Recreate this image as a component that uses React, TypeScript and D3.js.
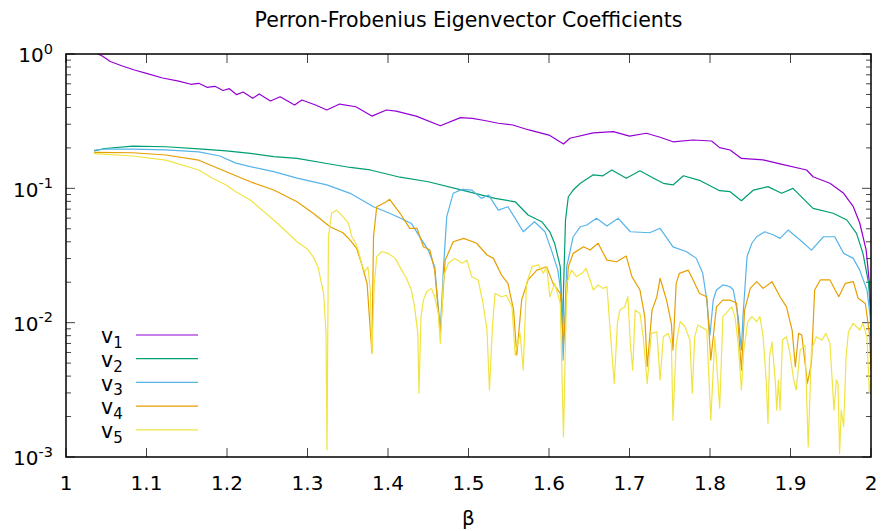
import React from "react";
import * as d3 from "d3";

type Pt = [number, number];

const W = 883;
const H = 531;
const PLOT = { left: 66, right: 871, top: 54, bottom: 457 };

const chartTitle = "Perron-Frobenius Eigenvector Coefficients";
const xLabel = "β";
const seriesLabels = ["1", "2", "3", "4", "5"];
const seriesColors = ["#9400d3", "#009e73", "#56b4e9", "#e69f00", "#f0e442"];
const xDomain: Pt = [1, 2];
const yDomain: Pt = [0.001, 1];

const v1: Pt[] = [
  [1.035, 1.035], [1.045, 0.966], [1.055, 0.88], [1.07, 0.814], [1.085, 0.76], [1.1, 0.718],
  [1.12, 0.663], [1.14, 0.629], [1.155, 0.595], [1.165, 0.605], [1.175, 0.565], [1.185, 0.575],
  [1.195, 0.535], [1.203, 0.552], [1.212, 0.498], [1.22, 0.521], [1.232, 0.468], [1.24, 0.504],
  [1.254, 0.447], [1.266, 0.481], [1.284, 0.417], [1.293, 0.455], [1.31, 0.417], [1.324, 0.383],
  [1.34, 0.424], [1.36, 0.405], [1.38, 0.345], [1.398, 0.383], [1.41, 0.376], [1.435, 0.345],
  [1.465, 0.292], [1.49, 0.336], [1.505, 0.332], [1.52, 0.32], [1.537, 0.305], [1.555, 0.296],
  [1.575, 0.272], [1.6, 0.249], [1.618, 0.214], [1.626, 0.236], [1.655, 0.259], [1.68, 0.264],
  [1.7, 0.245], [1.721, 0.257], [1.738, 0.24], [1.754, 0.222], [1.779, 0.229], [1.802, 0.225],
  [1.812, 0.201], [1.825, 0.193], [1.839, 0.167], [1.866, 0.163], [1.887, 0.152], [1.92, 0.137],
  [1.928, 0.122], [1.949, 0.109], [1.966, 0.0918], [1.978, 0.073], [1.986, 0.0552], [1.994, 0.0347],
  [1.998, 0.0197], [2.0, 0.0105],
];

const v2: Pt[] = [
  [1.035, 0.19], [1.048, 0.198], [1.083, 0.2065], [1.124, 0.204], [1.165, 0.197], [1.199, 0.19],
  [1.229, 0.182], [1.258, 0.172], [1.287, 0.167], [1.324, 0.153], [1.353, 0.143], [1.378, 0.137],
  [1.415, 0.121], [1.45, 0.112], [1.492, 0.097], [1.533, 0.0841], [1.558, 0.0794], [1.574, 0.0633],
  [1.591, 0.0564], [1.601, 0.0475], [1.607, 0.0389], [1.614, 0.0261], [1.617, 0.00881], [1.618, 0.0175],
  [1.6205, 0.058], [1.624, 0.0866], [1.63, 0.0971], [1.639, 0.109], [1.655, 0.126], [1.667, 0.124],
  [1.678, 0.137], [1.696, 0.119], [1.713, 0.135], [1.73, 0.119], [1.742, 0.109], [1.754, 0.106],
  [1.767, 0.124], [1.788, 0.114], [1.812, 0.096], [1.825, 0.0944], [1.839, 0.0809], [1.854, 0.0971],
  [1.872, 0.103], [1.889, 0.0918], [1.903, 0.1], [1.928, 0.071], [1.953, 0.0652], [1.97, 0.0581],
  [1.982, 0.0462], [1.99, 0.0328], [1.997, 0.0197], [2.0, 0.0105],
];

const v3: Pt[] = [
  [1.035, 0.192], [1.048, 0.196], [1.083, 0.196], [1.124, 0.193], [1.165, 0.187], [1.191, 0.174],
  [1.211, 0.154], [1.229, 0.145], [1.258, 0.133], [1.287, 0.119], [1.324, 0.106], [1.353, 0.0918],
  [1.382, 0.073], [1.402, 0.0652], [1.415, 0.0601], [1.429, 0.0548], [1.442, 0.0412], [1.45, 0.0347],
  [1.458, 0.0261], [1.465, 0.00881], [1.469, 0.0261], [1.473, 0.0615], [1.481, 0.0918], [1.492, 0.0983],
  [1.504, 0.0971], [1.516, 0.0842], [1.525, 0.0891], [1.537, 0.0689], [1.549, 0.073], [1.558, 0.0598],
  [1.568, 0.0475], [1.582, 0.0564], [1.595, 0.0475], [1.603, 0.0347], [1.611, 0.0246], [1.616, 0.0147],
  [1.6175, 0.00527], [1.6195, 0.0105], [1.622, 0.0261], [1.63, 0.0436], [1.639, 0.0518], [1.647, 0.0533],
  [1.659, 0.0598], [1.672, 0.0524], [1.686, 0.0598], [1.701, 0.0475], [1.725, 0.0467], [1.738, 0.0504],
  [1.754, 0.0367], [1.771, 0.0337], [1.783, 0.0301], [1.791, 0.0233], [1.796, 0.0147], [1.8, 0.00809],
  [1.804, 0.0147], [1.808, 0.0175], [1.816, 0.0191], [1.825, 0.0185], [1.829, 0.0175], [1.835, 0.0111],
  [1.839, 0.00625], [1.841, 0.0111], [1.846, 0.031], [1.852, 0.039], [1.858, 0.0436], [1.868, 0.0475],
  [1.879, 0.0449], [1.887, 0.0424], [1.897, 0.0489], [1.912, 0.0412], [1.926, 0.0347], [1.941, 0.0436],
  [1.955, 0.0436], [1.966, 0.0328], [1.978, 0.0301], [1.986, 0.0246], [1.995, 0.0175], [1.999, 0.0111],
  [2.0, 0.008],
];

const v4: Pt[] = [
  [1.035, 0.185], [1.083, 0.184], [1.124, 0.177], [1.165, 0.162], [1.199, 0.133], [1.211, 0.124],
  [1.229, 0.112], [1.258, 0.0971], [1.287, 0.0794], [1.307, 0.0652], [1.328, 0.0518], [1.344, 0.0467],
  [1.353, 0.0412], [1.361, 0.0357], [1.367, 0.0277], [1.374, 0.0196], [1.38, 0.00594], [1.382, 0.0436],
  [1.386, 0.073], [1.398, 0.0794], [1.402, 0.0828], [1.415, 0.0652], [1.427, 0.0504], [1.436, 0.0504],
  [1.444, 0.0367], [1.452, 0.0347], [1.458, 0.0246], [1.465, 0.00832], [1.471, 0.0292], [1.481, 0.04],
  [1.494, 0.0424], [1.51, 0.039], [1.523, 0.0319], [1.531, 0.0301], [1.541, 0.0226], [1.549, 0.0196],
  [1.556, 0.0124], [1.56, 0.00574], [1.566, 0.0147], [1.574, 0.0208], [1.585, 0.0246], [1.597, 0.0261],
  [1.605, 0.0196], [1.614, 0.0165], [1.618, 0.00681], [1.624, 0.0261], [1.63, 0.0328], [1.643, 0.0367],
  [1.651, 0.0347], [1.661, 0.039], [1.672, 0.0292], [1.684, 0.0284], [1.696, 0.0313], [1.703, 0.022],
  [1.713, 0.0175], [1.719, 0.0111], [1.722, 0.0047], [1.728, 0.0124], [1.734, 0.0156], [1.738, 0.0214],
  [1.746, 0.0147], [1.752, 0.00988], [1.754, 0.00625], [1.758, 0.0196], [1.762, 0.0233], [1.773, 0.0246],
  [1.779, 0.0208], [1.787, 0.0165], [1.796, 0.0156], [1.801, 0.00527], [1.808, 0.0131], [1.816, 0.0147],
  [1.825, 0.0147], [1.833, 0.014], [1.839, 0.00444], [1.843, 0.0124], [1.85, 0.018], [1.858, 0.0202],
  [1.866, 0.018], [1.877, 0.0202], [1.887, 0.0156], [1.895, 0.0131], [1.902, 0.00881], [1.906, 0.0047],
  [1.91, 0.00832], [1.914, 0.00809], [1.921, 0.00355], [1.926, 0.00498], [1.93, 0.0175], [1.937, 0.0208],
  [1.949, 0.0208], [1.96, 0.0156], [1.968, 0.0196], [1.978, 0.0202], [1.984, 0.0152], [1.993, 0.0139],
  [1.998, 0.00832], [2.0, 0.00444],
];

const v5: Pt[] = [
  [1.035, 0.181], [1.083, 0.174], [1.124, 0.162], [1.165, 0.137], [1.182, 0.119], [1.199, 0.106],
  [1.211, 0.0944], [1.229, 0.0818], [1.258, 0.0581], [1.274, 0.0475], [1.287, 0.04], [1.299, 0.0357],
  [1.307, 0.031], [1.313, 0.0261], [1.32, 0.0165], [1.323, 0.00837], [1.3242, 0.00113], [1.326, 0.0436],
  [1.33, 0.0652], [1.336, 0.0689], [1.344, 0.0615], [1.351, 0.0548], [1.355, 0.0436], [1.359, 0.04],
  [1.363, 0.0347], [1.367, 0.0277], [1.371, 0.0239], [1.375, 0.0261], [1.378, 0.0175], [1.38, 0.00591],
  [1.383, 0.0196], [1.386, 0.031], [1.392, 0.0337], [1.4, 0.0328], [1.409, 0.0301], [1.417, 0.0246],
  [1.423, 0.0214], [1.429, 0.0175], [1.433, 0.0131], [1.437, 0.00832], [1.4385, 0.00298], [1.441, 0.0111],
  [1.444, 0.0147], [1.448, 0.017], [1.454, 0.018], [1.458, 0.0156], [1.4625, 0.0117], [1.465, 0.00702],
  [1.469, 0.022], [1.475, 0.0277], [1.483, 0.0301], [1.492, 0.0277], [1.498, 0.0292], [1.504, 0.022],
  [1.512, 0.0208], [1.518, 0.0139], [1.523, 0.00881], [1.526, 0.00315], [1.53, 0.00988], [1.533, 0.0165],
  [1.541, 0.0156], [1.547, 0.016], [1.554, 0.0131], [1.558, 0.00574], [1.564, 0.00837], [1.568, 0.00444],
  [1.572, 0.0196], [1.579, 0.0261], [1.587, 0.0269], [1.593, 0.0233], [1.597, 0.0261], [1.601, 0.0156],
  [1.607, 0.0196], [1.614, 0.0139], [1.618, 0.00141], [1.622, 0.0196], [1.628, 0.0246], [1.634, 0.022],
  [1.641, 0.0233], [1.646, 0.0254], [1.651, 0.0208], [1.655, 0.0175], [1.661, 0.0191], [1.667, 0.018],
  [1.672, 0.0185], [1.676, 0.00881], [1.681, 0.00353], [1.685, 0.00988], [1.688, 0.0124], [1.694, 0.0131],
  [1.698, 0.0156], [1.701, 0.00702], [1.704, 0.00444], [1.707, 0.0124], [1.713, 0.0117], [1.717, 0.00785],
  [1.722, 0.00353], [1.727, 0.00832], [1.734, 0.00855], [1.738, 0.00374], [1.742, 0.00785], [1.748, 0.00832],
  [1.752, 0.00702], [1.754, 0.00188], [1.758, 0.00702], [1.763, 0.0102], [1.769, 0.00932], [1.775, 0.00742],
  [1.778, 0.00298], [1.781, 0.00785], [1.785, 0.0096], [1.792, 0.00907], [1.796, 0.00881], [1.801, 0.00188],
  [1.806, 0.00785], [1.812, 0.00231], [1.816, 0.0111], [1.827, 0.0131], [1.831, 0.0111], [1.835, 0.00702],
  [1.839, 0.00315], [1.842, 0.00625], [1.847, 0.0102], [1.852, 0.0111], [1.858, 0.0102], [1.862, 0.0111],
  [1.866, 0.00785], [1.87, 0.00353], [1.872, 0.00178], [1.874, 0.00557], [1.877, 0.00721], [1.881, 0.00374],
  [1.883, 0.00223], [1.885, 0.00374], [1.887, 0.00223], [1.89, 0.00742], [1.895, 0.00785], [1.899, 0.00607],
  [1.904, 0.00374], [1.907, 0.00315], [1.912, 0.00625], [1.918, 0.00681], [1.922, 0.00119], [1.926, 0.00625],
  [1.932, 0.00785], [1.939, 0.00742], [1.944, 0.00832], [1.949, 0.00702], [1.954, 0.00223], [1.957, 0.00374],
  [1.959, 0.00353], [1.961, 0.00106], [1.963, 0.00223], [1.966, 0.00168], [1.969, 0.00557], [1.972, 0.00855],
  [1.978, 0.00988], [1.982, 0.00932], [1.986, 0.00881], [1.99, 0.00988], [1.995, 0.00785], [1.998, 0.00298],
  [2.0, 0.00374],
];

const allSeries = [v1, v2, v3, v4, v5];

const FONT = "DejaVu Sans, Liberation Sans, sans-serif";

export default function App() {
  const x = d3.scaleLinear().domain(xDomain).range([PLOT.left, PLOT.right]);
  const y = d3.scaleLog().domain(yDomain).range([PLOT.bottom, PLOT.top]);
  const line = d3
    .line<Pt>()
    .x((d) => x(d[0]))
    .y((d) => y(d[1]));

  const xTicks = x.ticks(10);
  const yTicks = y.ticks();
  const isMajor = (v: number) => Math.abs(Math.log10(v) - Math.round(Math.log10(v))) < 1e-9;

  const tickColor = "#444";
  const majorLen = 9;
  const minorLen = 5;

  return (
    <svg
      width={W}
      height={H}
      style={{ position: "absolute", left: 0, top: 0, display: "block", background: "#fff" }}
      fontFamily={FONT}
    >
      <defs>
        <clipPath id="plotClip">
          <rect x={PLOT.left} y={PLOT.top} width={PLOT.right - PLOT.left} height={PLOT.bottom - PLOT.top} />
        </clipPath>
      </defs>
      <rect x={0} y={0} width={W} height={H} fill="#fff" />

      {/* title */}
      <text x={(PLOT.left + PLOT.right) / 2} y={27} textAnchor="middle" fontSize={20.5} fill="#000">
        {chartTitle}
      </text>

      {/* x ticks */}
      {xTicks.map((t) => (
        <g key={"xt" + t}>
          <line x1={x(t)} x2={x(t)} y1={PLOT.bottom} y2={PLOT.bottom - majorLen} stroke={tickColor} strokeWidth={1} />
          <line x1={x(t)} x2={x(t)} y1={PLOT.top} y2={PLOT.top + majorLen} stroke={tickColor} strokeWidth={1} />
          <text x={x(t)} y={490} textAnchor="middle" fontSize={20} fill="#000">
            {String(+t.toFixed(1))}
          </text>
        </g>
      ))}

      {/* y ticks */}
      {yTicks.map((t) => {
        const major = isMajor(t);
        const len = major ? majorLen : minorLen;
        const yy = y(t);
        return (
          <g key={"yt" + t}>
            <line x1={PLOT.left} x2={PLOT.left + len} y1={yy} y2={yy} stroke={tickColor} strokeWidth={1} />
            <line x1={PLOT.right} x2={PLOT.right - len} y1={yy} y2={yy} stroke={tickColor} strokeWidth={1} />
            {major && (
              <text x={53} y={yy + 8.3} textAnchor="end" fontSize={20} fill="#000">
                10
                <tspan dy={-8.5} fontSize={14.5}>
                  {String(Math.round(Math.log10(t)))}
                </tspan>
              </text>
            )}
          </g>
        );
      })}

      {/* series */}
      <g clipPath="url(#plotClip)">
        {allSeries.map((s, i) => (
          <path key={"s" + i} d={line(s) || ""} fill="none" stroke={seriesColors[i]} strokeWidth={1.2} strokeLinejoin="round" />
        ))}
      </g>

      {/* legend */}
      {seriesLabels.map((lab, i) => {
        const ly = 335 + i * 23.7;
        return (
          <g key={"lg" + i}>
            <text x={101} y={ly + 8.3} fontSize={20.5} fill="#000">
              v
              <tspan dy={4.5} fontSize={15}>
                {lab}
              </tspan>
            </text>
            <line x1={136} x2={198} y1={ly} y2={ly} stroke={seriesColors[i]} strokeWidth={1.2} />
          </g>
        );
      })}

      {/* border */}
      <rect
        x={PLOT.left}
        y={PLOT.top}
        width={PLOT.right - PLOT.left}
        height={PLOT.bottom - PLOT.top}
        fill="none"
        stroke="#000"
        strokeWidth={1.5}
      />

      {/* x label */}
      <text x={(PLOT.left + PLOT.right) / 2} y={525} textAnchor="middle" fontSize={20} fill="#000">
        {xLabel}
      </text>
    </svg>
  );
}
